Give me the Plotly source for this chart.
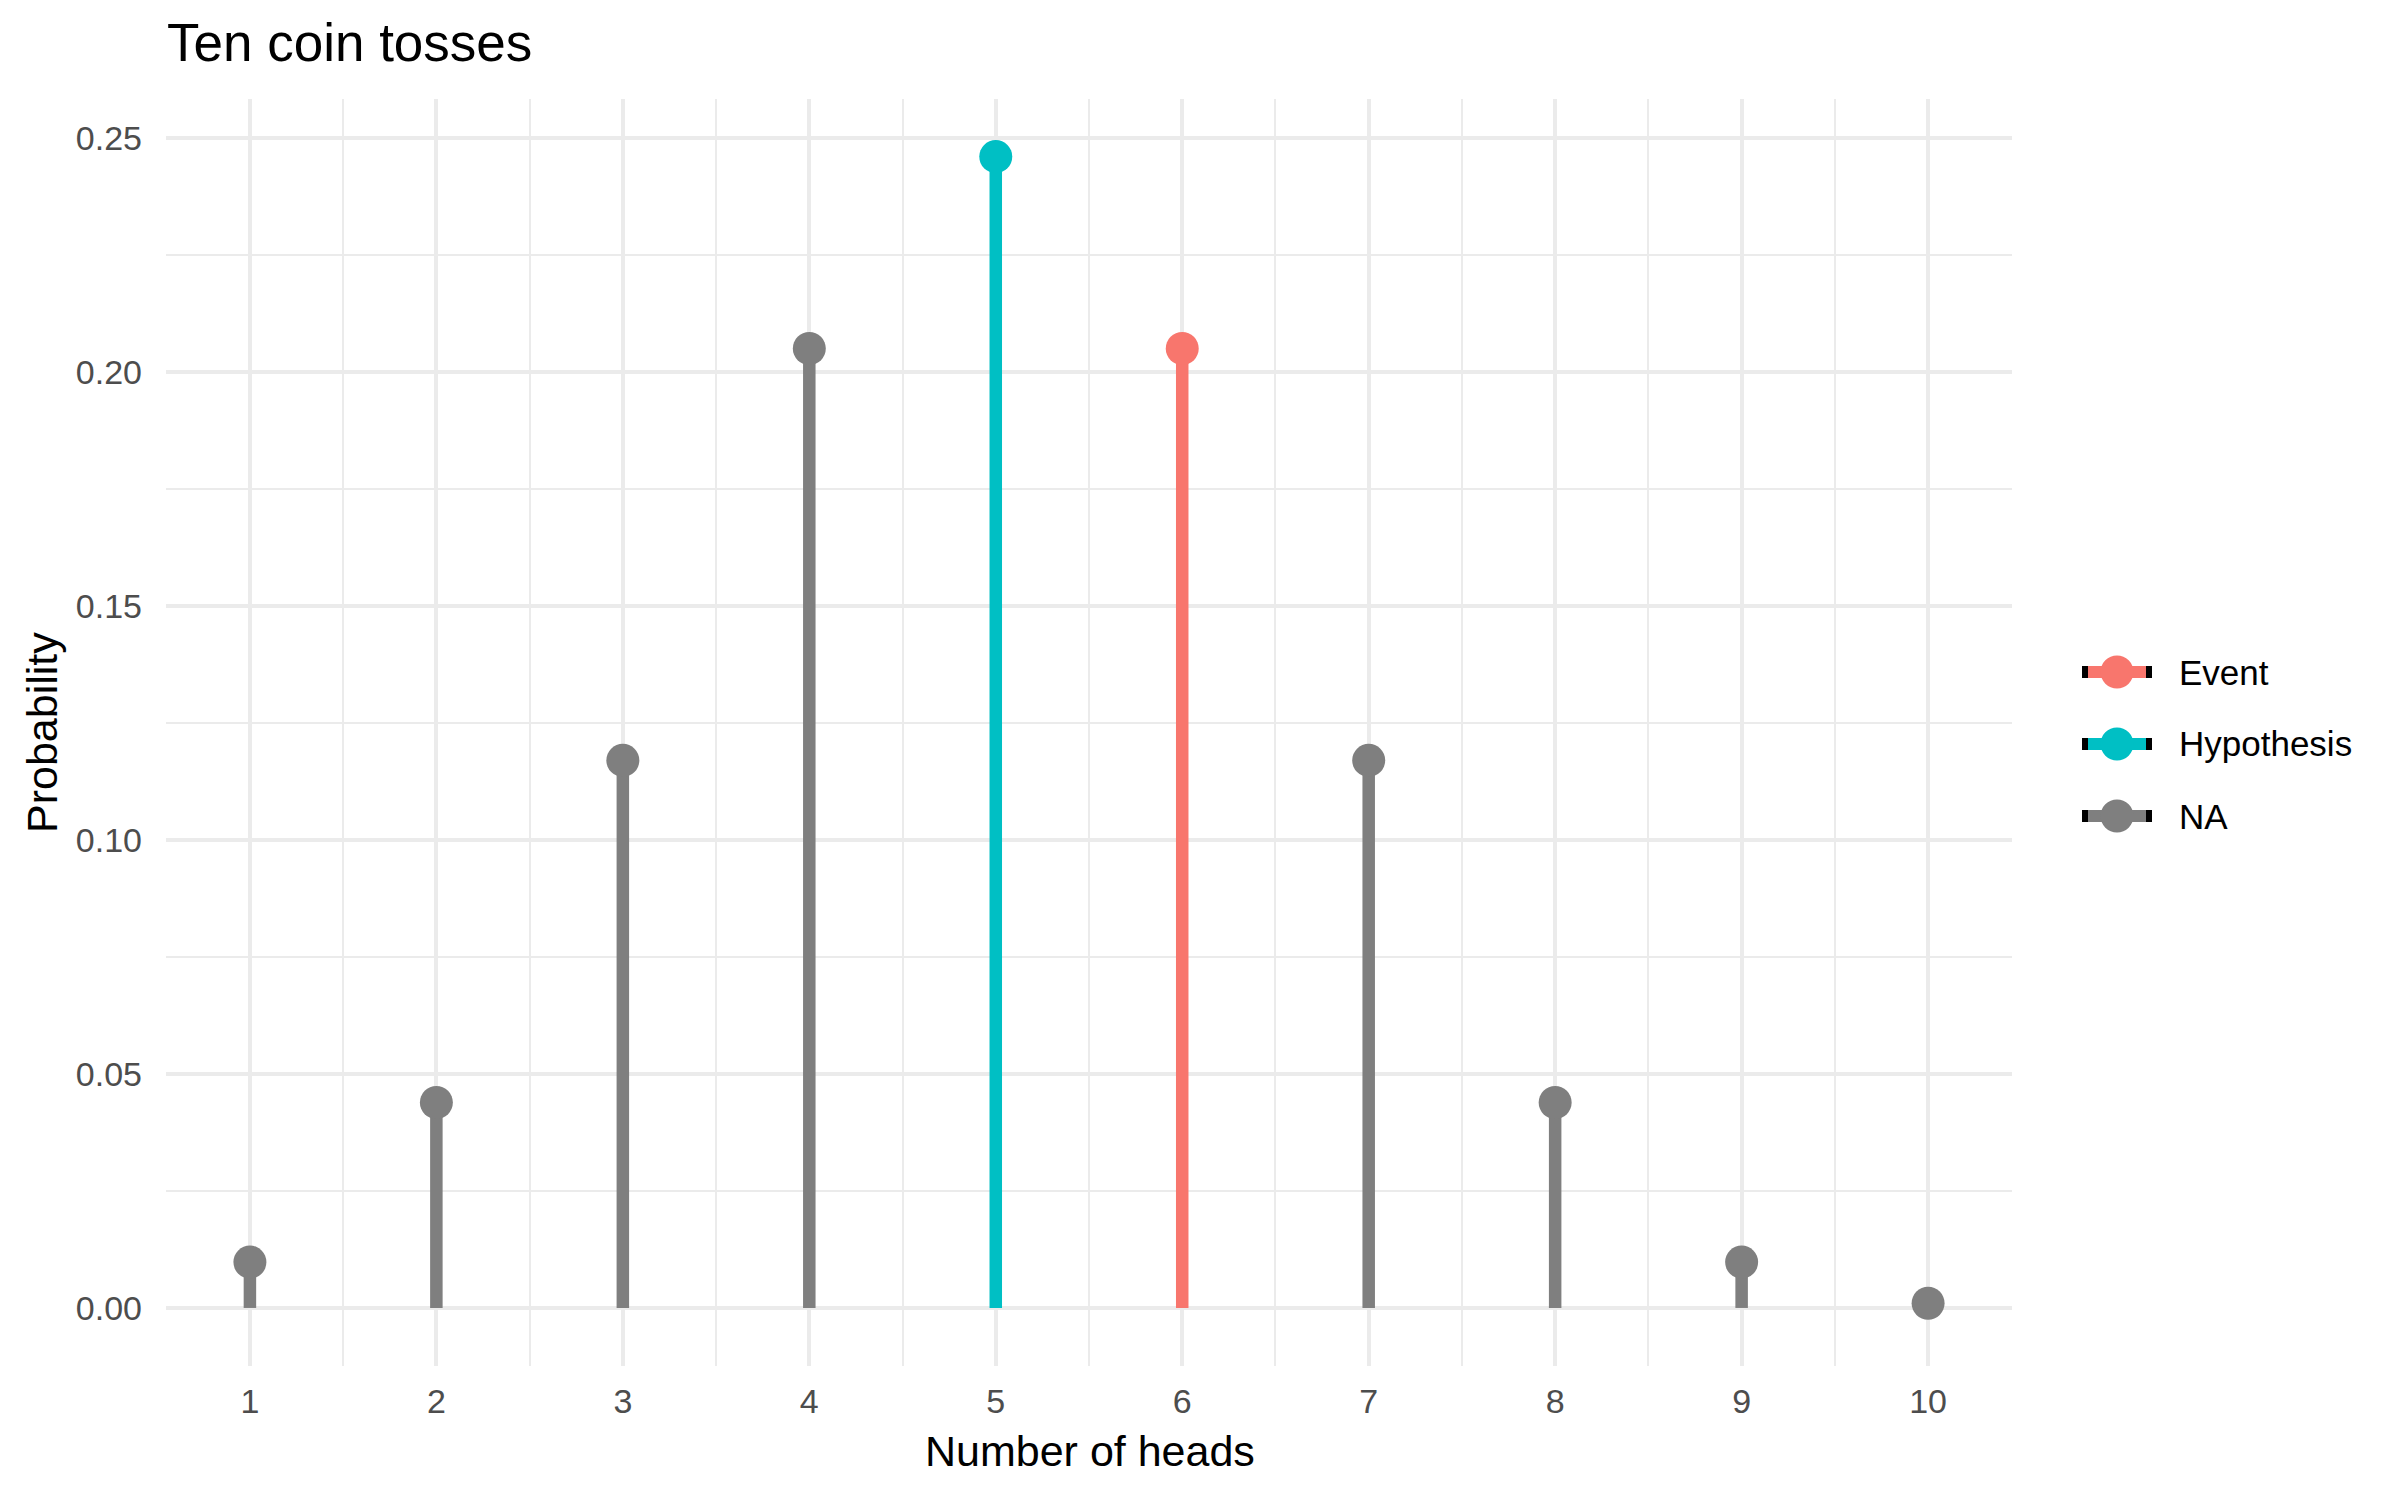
import plotly.graph_objects as go

heads = [1, 2, 3, 4, 5, 6, 7, 8, 9, 10]
probability = [0.0098, 0.0439, 0.117, 0.205, 0.246, 0.205, 0.117, 0.0439, 0.0098, 0.001]
group = ["NA", "NA", "NA", "NA", "Hypothesis", "Event", "NA", "NA", "NA", "NA"]
legend_order = ["Event", "Hypothesis", "NA"]
colors = {"Event": "#F8766D", "Hypothesis": "#00BFC4", "NA": "#7F7F7F"}

FONT = "Liberation Sans, Arial, Helvetica, sans-serif"
LW = 12.5
MS = 33
W, H = 2400, 1500
L, R, T, B = 166, 388, 99, 134
PW, PH = W - L - R, H - T - B


def px_x(x):
    return (x - L) / PW


def px_y(y):
    return (H - B - y) / PH


fig = go.Figure()

# segments and points
for g in ["NA", "Hypothesis", "Event"]:
    xs, ys, mx, my = [], [], [], []
    for h, p, gg in zip(heads, probability, group):
        if gg == g:
            xs += [h, h, None]
            ys += [0, p, None]
            mx.append(h)
            my.append(p)
    fig.add_trace(go.Scatter(x=xs, y=ys, mode="lines", line=dict(color=colors[g], width=LW),
                             showlegend=False, hoverinfo="skip"))
    fig.add_trace(go.Scatter(x=mx, y=my, mode="markers", name=g,
                             marker=dict(color=colors[g], size=MS, line=dict(width=0)),
                             showlegend=False))

grid = "#EBEBEB"

# legend (drawn as layout shapes + text, positioned in pixels of the page)
shapes = []
annotations = []
key_cx, text_x = 2117, 2177
key_half = 35
for i, g in enumerate(legend_order):
    cy = 672 + 72 * i
    shapes.append(dict(type="line", xref="paper", yref="paper",
                       x0=px_x(key_cx - key_half), x1=px_x(key_cx + key_half), y0=px_y(cy), y1=px_y(cy),
                       line=dict(color=colors[g], width=12)))
    for sx in (key_cx - key_half, key_cx + key_half - 6):
        shapes.append(dict(type="rect", xref="paper", yref="paper",
                           x0=px_x(sx), x1=px_x(sx + 6), y0=px_y(cy + 6), y1=px_y(cy - 6),
                           line=dict(width=0), fillcolor="black"))
    shapes.append(dict(type="circle", xref="paper", yref="paper",
                       x0=px_x(key_cx - 16.5), x1=px_x(key_cx + 16.5),
                       y0=px_y(cy + 16.5), y1=px_y(cy - 16.5),
                       line=dict(width=0), fillcolor=colors[g]))
    annotations.append(dict(text=g, x=px_x(text_x), y=px_y(cy), xref="paper", yref="paper",
                            xanchor="left", yanchor="middle", showarrow=False,
                            font=dict(size=35, color="black", family=FONT)))

annotations += [
    dict(text="Number of heads", x=px_x(1090), xref="paper", y=px_y(1451), yref="paper",
         showarrow=False, font=dict(size=43, color="black", family=FONT),
         xanchor="center", yanchor="middle"),
    dict(text="Probability", x=px_x(42), xref="paper", y=px_y(733), yref="paper",
         showarrow=False, font=dict(size=43, color="black", family=FONT), textangle=-90,
         xanchor="center", yanchor="middle"),
]

fig.update_layout(
    width=W, height=H,
    paper_bgcolor="white", plot_bgcolor="white",
    margin=dict(l=L, r=R, t=T, b=B),
    font=dict(family=FONT, color="#000000"),
    title=dict(text="Ten coin tosses", font=dict(size=53, color="black", family=FONT),
               x=px_x(167), xref="paper", xanchor="left", y=1 - 42 / H, yref="container",
               yanchor="middle"),
    showlegend=False,
    xaxis=dict(range=[0.55, 10.45], tickmode="array", tickvals=heads, ticktext=[str(h) for h in heads],
               showgrid=True, gridcolor=grid, gridwidth=3.7, zeroline=False, showline=False,
               ticks="", ticklabelstandoff=12, tickfont=dict(size=34, color="#4D4D4D"),
               minor=dict(dtick=0.5, tick0=0, showgrid=True, gridcolor=grid, gridwidth=2.3)),
    yaxis=dict(range=[-0.0124, 0.2583], dtick=0.05, tick0=0, tickformat=".2f",
               showgrid=True, gridcolor=grid, gridwidth=3.7, zeroline=False, showline=False,
               ticks="", ticklabelstandoff=23, tickfont=dict(size=34, color="#4D4D4D"),
               minor=dict(dtick=0.025, tick0=0, showgrid=True, gridcolor=grid, gridwidth=2.3)),
    shapes=shapes,
    annotations=annotations,
)

fig.write_html("out.html", config={"displayModeBar": False},
               post_script="document.body.style.margin='0px';document.body.style.padding='0px';")
